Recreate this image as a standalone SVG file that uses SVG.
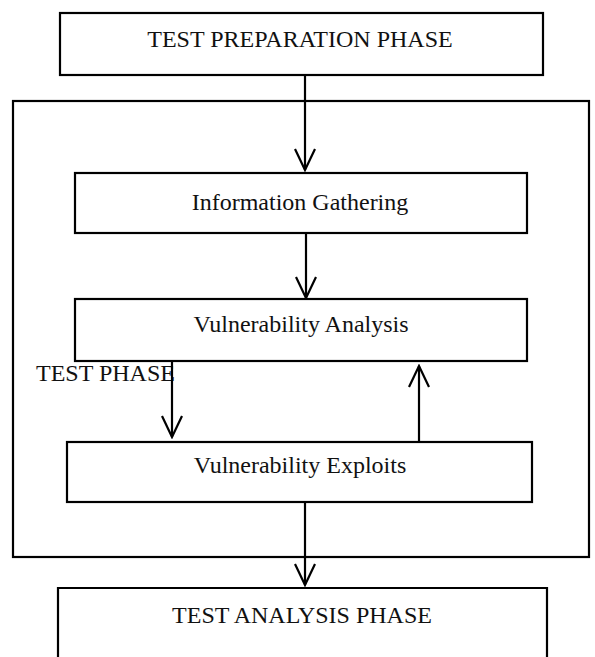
<svg xmlns="http://www.w3.org/2000/svg" width="595" height="657" viewBox="0 0 595 657">
<defs>
<style>
.box{fill:#fff;stroke:#000;stroke-width:2.2}
.frame{fill:none;stroke:#000;stroke-width:2.2}
.t{font-family:"Liberation Serif","Times New Roman",serif;font-size:24px;fill:#111;text-anchor:middle}
.lbl{font-family:"Liberation Serif","Times New Roman",serif;font-size:24px;fill:#111}
.c{fill:none;stroke:#000;stroke-width:2.2}
</style>
<marker id="v" markerUnits="userSpaceOnUse" markerWidth="26" markerHeight="26" viewBox="-24 -13 26 26" refX="0" refY="0" orient="auto">
<path d="M-21,-10 L0,0 L-21,10" fill="none" stroke="#000" stroke-width="2.2"/>
</marker>
</defs>
<g id="test-phase">
<rect class="frame" x="13" y="101" width="576" height="456"/>
<text class="lbl" x="36" y="381">TEST PHASE</text>
</g>
<g id="test-preparation-phase">
<rect class="box" x="60" y="13" width="483" height="62"/>
<text class="t" x="300" y="47">TEST PREPARATION PHASE</text>
</g>
<g id="information-gathering">
<rect class="box" x="75" y="173" width="452" height="60"/>
<text class="t" x="300" y="210">Information Gathering</text>
</g>
<g id="vulnerability-analysis">
<rect class="box" x="75" y="299" width="452" height="62"/>
<text class="t" x="301" y="332">Vulnerability Analysis</text>
</g>
<g id="vulnerability-exploits">
<rect class="box" x="67" y="442" width="465" height="60"/>
<text class="t" x="300" y="473">Vulnerability Exploits</text>
</g>
<g id="test-analysis-phase">
<path class="frame" d="M58,670 L58,588 L547,588 L547,670"/>
<text class="t" x="302" y="623">TEST ANALYSIS PHASE</text>
</g>
<g id="connectors">
<line class="c" x1="305" y1="75" x2="305" y2="170" marker-end="url(#v)"/>
<line class="c" x1="306" y1="233" x2="306" y2="298" marker-end="url(#v)"/>
<line class="c" x1="172" y1="361" x2="172" y2="437" marker-end="url(#v)"/>
<line class="c" x1="419" y1="442" x2="419" y2="366" marker-end="url(#v)"/>
<line class="c" x1="305" y1="502" x2="305" y2="585" marker-end="url(#v)"/>
</g>
</svg>
